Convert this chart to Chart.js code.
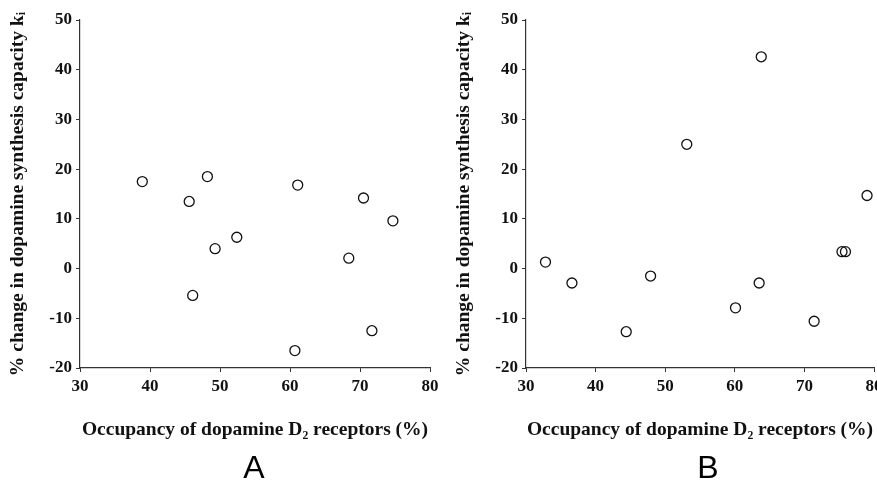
<!DOCTYPE html>
<html>
<head>
<meta charset="utf-8">
<script src="https://cdn.jsdelivr.net/npm/chart.js@4.4.1/dist/chart.umd.min.js"></script>
<style>
  html, body { margin: 0; padding: 0; background: #ffffff; width: 877px; height: 482px; overflow: hidden; position: relative; }
  canvas { position: absolute; top: 0; }
  #cA { left: 0px; }
  #cB { left: 446px; }
  .panel { position: absolute; top: 451px; font: 32px 'Liberation Sans', Arial, sans-serif; line-height: 32px; color: #000; transform: translateX(-50%); }
</style>
</head>
<body>
<canvas id="cA" width="460" height="482"></canvas>
<canvas id="cB" width="460" height="482"></canvas>
<div class="panel" style="left:254px;">A</div>
<div class="panel" style="left:708px;">B</div>
<script>
// ---- data ----
const panelLabels = ['A', 'B'];
const occupancyA = [38.9, 45.6, 48.2, 46.1, 49.3, 52.4, 61.1, 60.7, 68.4, 70.5, 71.7, 74.7];
const changeA    = [17.5, 13.5, 18.5, -5.4, 4.0, 6.3, 16.8, -16.5, 2.1, 14.2, -12.5, 9.6];
const occupancyB = [32.8, 36.6, 44.4, 47.9, 53.1, 63.8, 60.1, 63.5, 71.4, 75.4, 75.9, 79.0];
const changeB    = [1.3, -2.9, -12.7, -1.5, 25.0, 42.6, -7.9, -2.9, -10.6, 3.4, 3.4, 14.7];
const xTicks = [30, 40, 50, 60, 70, 80];
const yTicks = [-20, -10, 0, 10, 20, 30, 40, 50];
const xTitle = 'Occupancy of dopamine D\u2082 receptors (%)';
const yTitle = '% change in dopamine synthesis capacity k\u1D62';

const serif = "'Liberation Serif', 'Times New Roman', serif";
const CANVAS_H = 482;

function makeChart(id, xs, ys, opts) {
  const pts = xs.map((x, i) => ({ x: x, y: ys[i] }));
  return new Chart(document.getElementById(id), {
    type: 'scatter',
    data: {
      datasets: [{
        data: pts,
        pointStyle: 'circle',
        pointRadius: 5,
        pointHoverRadius: 5,
        borderColor: '#111',
        borderWidth: 1.3,
        backgroundColor: 'rgba(0,0,0,0)',
        showLine: false
      }]
    },
    options: {
      responsive: false,
      devicePixelRatio: 1,
      animation: false,
      layout: { padding: { top: 20, right: opts.rightPad, left: 0, bottom: 0 } },
      plugins: { legend: { display: false }, tooltip: { enabled: false } },
      scales: {
        x: {
          type: 'linear',
          min: xTicks[0], max: xTicks[xTicks.length - 1],
          afterBuildTicks: s => { s.ticks = xTicks.map(v => ({ value: v })); },
          afterFit: s => { s.height = CANVAS_H - 368; },
          ticks: { font: { family: serif, size: 17, weight: 'bold' }, color: '#111', padding: 4, maxRotation: 0 },
          grid: { display: true, drawOnChartArea: false, drawTicks: true, tickLength: 4, tickColor: '#333' },
          border: { display: true, color: '#333', width: 1.2, dash: opts.xDash },
          title: { display: true, text: xTitle, font: { family: serif, size: 19.5, weight: 'bold' }, color: '#111', padding: { top: 0, bottom: 40 } }
        },
        y: {
          type: 'linear',
          min: yTicks[0], max: yTicks[yTicks.length - 1],
          afterBuildTicks: s => { s.ticks = yTicks.map(v => ({ value: v })); },
          afterFit: s => { s.width = 80; },
          ticks: { font: { family: serif, size: 17, weight: 'bold' }, color: '#111', padding: 4 },
          grid: { display: true, drawOnChartArea: false, drawTicks: true, tickLength: 4, tickColor: '#333' },
          border: { display: true, color: '#333', width: 1.2, dash: [1, 1] },
          title: { display: true, text: yTitle, font: { family: serif, size: 19.5, weight: 'bold' }, color: '#111', padding: { top: 6, bottom: 0 } }
        }
      }
    }
  });
}

makeChart('cA', occupancyA, changeA, { rightPad: 30, xDash: [] });
makeChart('cB', occupancyB, changeB, { rightPad: 32, xDash: [1, 1] });
</script>
</body>
</html>
